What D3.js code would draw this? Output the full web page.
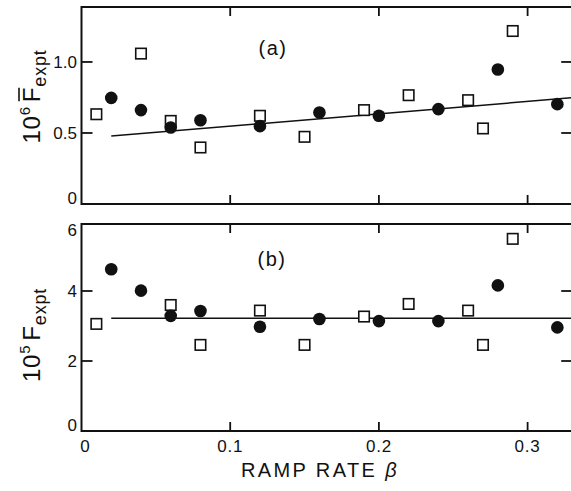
<!DOCTYPE html>
<html>
<head>
<meta charset="utf-8">
<script src="https://cdn.jsdelivr.net/npm/d3@7"></script>
<style>
  html, body { margin: 0; padding: 0; background: #fff; }
  svg { display: block; }
  text { font-family: "Liberation Sans", Arial, sans-serif; fill: #111; }
</style>
</head>
<body>
<svg id="chart" width="571" height="491"></svg>
<script>
// ---------- data ----------
const xTicks = [0, 0.1, 0.2, 0.3];
const xTickLabels = ["0", "0.1", "0.2", "0.3"];

// panel (a): 10^6 mean F_expt
const aCircleBeta = [0.02, 0.04, 0.06, 0.08, 0.12, 0.16, 0.20, 0.24, 0.28, 0.32];
const aCircleVal  = [0.747, 0.661, 0.539, 0.590, 0.548, 0.644, 0.621, 0.668, 0.947, 0.703];
const aSquareBeta = [0.01, 0.04, 0.06, 0.08, 0.12, 0.15, 0.19, 0.22, 0.26, 0.27, 0.29];
const aSquareVal  = [0.632, 1.059, 0.585, 0.398, 0.621, 0.473, 0.661, 0.766, 0.731, 0.532, 1.218];
const aFitBeta = [0.02, 0.33];
const aFitVal  = [0.478, 0.748];
const aYTicks = [0, 0.5, 1.0];
const aYTickLabels = ["0", "0.5", "1.0"];

// panel (b): 10^5 F_expt
const bCircleBeta = [0.02, 0.04, 0.06, 0.08, 0.12, 0.16, 0.20, 0.24, 0.28, 0.32];
const bCircleVal  = [4.62, 4.01, 3.29, 3.43, 2.98, 3.20, 3.14, 3.14, 4.16, 2.96];
const bSquareBeta = [0.01, 0.06, 0.08, 0.12, 0.15, 0.19, 0.22, 0.26, 0.27, 0.29];
const bSquareVal  = [3.06, 3.60, 2.46, 3.44, 2.46, 3.27, 3.63, 3.44, 2.46, 5.49];
const bFitBeta = [0.02, 0.33];
const bFitVal  = [3.22, 3.22];
const bYTicks = [0, 2, 4, 6];
const bYTickLabels = ["0", "2", "4", "6"];

// ---------- layout ----------
const svg = d3.select("#chart");
const left = 81.5;
const x = d3.scaleLinear().domain([0, 0.33]).range([left, left + 0.33 * 1487]);
const right = x(0.33);

const panels = [
  { top: 7,   bottom: 204, domain: [0, 1.387], cB: aCircleBeta, cV: aCircleVal, sB: aSquareBeta, sV: aSquareVal,
    fB: aFitBeta, fV: aFitVal, yt: aYTicks, ytl: aYTickLabels, tag: "(a)", tagPos: [273, 48],
    exp: "6", bar: true, labelCenter: 96.5 },
  { top: 224, bottom: 431, domain: [0, 5.914], cB: bCircleBeta, cV: bCircleVal, sB: bSquareBeta, sV: bSquareVal,
    fB: bFitBeta, fV: bFitVal, yt: bYTicks, ytl: bYTickLabels, tag: "(b)", tagPos: [272, 259],
    exp: "5", bar: false, labelCenter: 335 }
];

panels.forEach((p, pi) => {
  const y = d3.scaleLinear().domain(p.domain).range([p.bottom, p.top]);
  const g = svg.append("g");

  // frame
  g.append("rect").attr("x", left).attr("y", p.top)
    .attr("width", right - left).attr("height", p.bottom - p.top)
    .attr("fill", "none").attr("stroke", "#111").attr("stroke-width", 2);

  // inward y ticks (left and right)
  const innerY = p.yt.filter(v => y(v) < p.bottom - 1 && y(v) > p.top + 1);
  innerY.forEach(v => {
    g.append("line").attr("x1", left).attr("x2", left + 11).attr("y1", y(v)).attr("y2", y(v))
      .attr("stroke", "#111").attr("stroke-width", 1.8);
    g.append("line").attr("x1", right).attr("x2", right - 11).attr("y1", y(v)).attr("y2", y(v))
      .attr("stroke", "#111").attr("stroke-width", 1.8);
  });
  // inward x ticks (bottom and top)
  xTicks.filter(v => v > 0).forEach(v => {
    g.append("line").attr("x1", x(v)).attr("x2", x(v)).attr("y1", p.bottom).attr("y2", p.bottom - 9)
      .attr("stroke", "#111").attr("stroke-width", 1.8);
    g.append("line").attr("x1", x(v)).attr("x2", x(v)).attr("y1", p.top).attr("y2", p.top + 9)
      .attr("stroke", "#111").attr("stroke-width", 1.8);
  });

  // y tick labels
  p.yt.forEach((v, i) => {
    const yy = Math.max(p.top, Math.min(p.bottom, y(v)));
    let dy = "0.36em";
    if (yy >= p.bottom - 0.5) dy = "0em";
    else if (yy <= p.top + 0.5) dy = "0.72em";
    g.append("text").attr("x", 77).attr("y", yy).attr("dy", dy)
      .attr("text-anchor", "end").attr("font-size", 17).text(p.ytl[i]);
  });

  // fit line
  const fit = p.fB.map((b, i) => [x(b), y(p.fV[i])]);
  g.append("path").attr("d", d3.line()(fit)).attr("fill", "none")
    .attr("stroke", "#111").attr("stroke-width", 1.5);

  // squares (open)
  const s = 10.5;
  g.selectAll("rect.sq").data(p.sB.map((b, i) => [b, p.sV[i]])).join("rect")
    .attr("class", "sq")
    .attr("x", d => x(d[0]) - s / 2).attr("y", d => y(d[1]) - s / 2)
    .attr("width", s).attr("height", s)
    .attr("fill", "#fff").attr("stroke", "#111").attr("stroke-width", 1.6);

  // circles (filled)
  g.selectAll("circle").data(p.cB.map((b, i) => [b, p.cV[i]])).join("circle")
    .attr("cx", d => x(d[0])).attr("cy", d => y(d[1])).attr("r", 6.3)
    .attr("fill", "#111");

  // panel tag
  g.append("text").attr("x", p.tagPos[0]).attr("y", p.tagPos[1]).attr("dy", "0.35em")
    .attr("text-anchor", "middle").attr("font-size", 20).attr("letter-spacing", 1.5).text(p.tag);

  // y axis title
  const lg = svg.append("g").attr("transform", `translate(40,${p.labelCenter}) rotate(-90)`);
  const t = lg.append("text").attr("text-anchor", "middle").attr("letter-spacing", 0.8);
  t.append("tspan").attr("font-size", 24).text("10");
  t.append("tspan").attr("font-size", 15).attr("dy", -10).text(p.exp);
  t.append("tspan").attr("font-size", 24).attr("dy", 10).attr("dx", 4).text("F");
  t.append("tspan").attr("font-size", 18).attr("dy", 6).text("expt");
  if (p.bar) {
    const ext = t.node().getExtentOfChar(3);
    lg.append("line")
      .attr("x1", ext.x + 1).attr("x2", ext.x + ext.width - 1)
      .attr("y1", ext.y + 1).attr("y2", ext.y + 1)
      .attr("stroke", "#111").attr("stroke-width", 1.6);
  }
});

// x tick labels (bottom panel)
xTicks.forEach((v, i) => {
  svg.append("text").attr("x", x(v) + (v === 0 ? 4 : 0)).attr("y", 452)
    .attr("text-anchor", "middle").attr("font-size", 17).attr("letter-spacing", 0.8)
    .text(xTickLabels[i]);
});

// x axis title
const xt = svg.append("text").attr("x", 320).attr("y", 477)
  .attr("text-anchor", "middle").attr("font-size", 20).attr("letter-spacing", 2.4);
xt.append("tspan").text("RAMP RATE ");
xt.append("tspan").attr("font-style", "italic").text("β");
</script>
</body>
</html>
